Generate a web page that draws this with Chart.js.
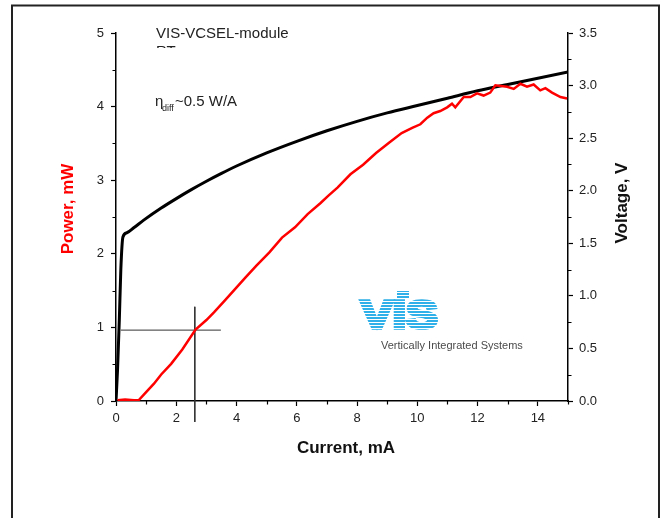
<!DOCTYPE html>
<html>
<head>
<meta charset="utf-8">
<script src="https://cdn.jsdelivr.net/npm/chart.js@4/dist/chart.umd.min.js"></script>
<style>
  html, body { margin: 0; padding: 0; background: #fff; }
  canvas { display: block; }
</style>
</head>
<body>
<canvas id="chart" width="666" height="518"></canvas>
<script>
// Voltage (right axis) vs current
const currentV = [0, 0.05, 0.11, 0.16, 0.23, 0.36, 0.6, 0.92, 1.5, 2, 2.5, 3, 3.5, 4, 5, 6, 7, 8, 9, 10, 11, 12, 13, 14, 15];
const voltage  = [0, 0.29, 0.77, 1.25, 1.56, 1.60, 1.65, 1.72, 1.835, 1.925, 2.01, 2.09, 2.165, 2.235, 2.36, 2.47, 2.57, 2.66, 2.74, 2.81, 2.88, 2.95, 3.01, 3.07, 3.13];

// Optical power (left axis) vs current
const currentP = [0.05, 0.3, 0.6, 0.75, 1.0, 1.26, 1.5, 1.83, 2.2, 2.64, 3.0, 3.25, 3.6, 3.95, 4.3, 4.66, 5.09, 5.51, 5.94, 6.36, 6.79, 7.05, 7.35, 7.78, 8.2, 8.63, 9.06, 9.48, 9.83, 10.1, 10.33, 10.54, 10.76, 10.99, 11.15, 11.26, 11.54, 11.76, 11.98, 12.2, 12.42, 12.59, 12.98, 13.2, 13.42, 13.64, 13.86, 14.08, 14.25, 14.47, 14.75, 14.97];
const power    = [0.01, 0.02, 0.01, 0.01, 0.12, 0.235, 0.36, 0.505, 0.70, 0.97, 1.10, 1.205, 1.36, 1.52, 1.68, 1.84, 2.02, 2.22, 2.36, 2.54, 2.69, 2.79, 2.90, 3.08, 3.21, 3.37, 3.51, 3.64, 3.71, 3.76, 3.85, 3.91, 3.94, 3.99, 4.04, 3.99, 4.13, 4.13, 4.18, 4.15, 4.19, 4.29, 4.27, 4.24, 4.31, 4.27, 4.30, 4.22, 4.25, 4.19, 4.13, 4.11];

// Thin crosshair marking the ~1 mW point
const crossH = { x: [0.16, 3.48], y: [0.963, 0.963] };
const crossV = { x: [2.615, 2.615], y: [1.28, -0.285] };

// Axis ranges / ticks
const xRange = [0, 15], xStep = 2, xMinor = 1;
const pRange = [0, 5],  pStep = 1, pMinor = 0.5;
const vRange = [0, 3.5], vStep = 0.5, vMinor = 0.25;

const toXY = (xs, ys) => xs.map((x, i) => ({ x, y: ys[i] }));
const FONT = "'Liberation Sans', Arial, sans-serif";

// minor ticks, frame, annotations and rotated axis titles
const decorations = {
  id: 'decorations',
  beforeDraw(chart) {
    const c = chart.ctx;
    c.save();
    c.fillStyle = '#fff';
    c.fillRect(0, 0, chart.width, chart.height);
    c.restore();
  },
  afterDraw(chart) {
    const c = chart.ctx;
    const { x, y, y2 } = chart.scales;
    c.save();

    // outer frame (bottom edge runs off the picture)
    c.strokeStyle = '#222';
    c.lineWidth = 2;
    c.strokeRect(12, 5.5, 647, 560);

    // minor ticks
    c.strokeStyle = '#000';
    c.lineWidth = 1.2;
    c.beginPath();
    for (let v = xRange[0] + xMinor; v <= xRange[1]; v += xStep) {
      const px = Math.round(x.getPixelForValue(v)) + 0.5;
      c.moveTo(px, y.bottom); c.lineTo(px, y.bottom + 3.5);
    }
    for (let v = pRange[0] + pMinor; v < pRange[1]; v += pStep) {
      const py = Math.round(y.getPixelForValue(v)) + 0.5;
      c.moveTo(x.left, py); c.lineTo(x.left - 3.5, py);
    }
    for (let v = vRange[0] + vMinor; v < vRange[1]; v += vStep) {
      const py = Math.round(y2.getPixelForValue(v)) + 0.5;
      c.moveTo(x.right, py); c.lineTo(x.right + 3.5, py);
    }
    c.stroke();

    // axis titles
    c.font = 'bold 17px ' + FONT;
    c.textAlign = 'center';
    c.textBaseline = 'alphabetic';
    c.fillStyle = '#111';
    c.fillText('Current, mA', 346, 453);

    c.save();
    c.translate(73, 209);
    c.rotate(-Math.PI / 2);
    c.fillStyle = '#ff0000';
    c.fillText('Power, mW', 0, 0);
    c.restore();

    c.save();
    c.translate(627, 203);
    c.rotate(-Math.PI / 2);
    c.fillStyle = '#111';
    c.fillText('Voltage, V', 0, 0);
    c.restore();

    // annotations
    c.textAlign = 'left';
    c.fillStyle = '#222';
    c.font = '15px ' + FONT;
    c.fillText('VIS-VCSEL-module', 156, 38);
    c.save();
    c.beginPath();
    c.rect(150, 40, 80, 8);
    c.clip();
    c.fillText('RT', 156, 56);
    c.restore();

    c.font = '15px ' + FONT;
    c.fillText('\u03b7', 155, 106);
    c.font = '9px ' + FONT;
    c.fillText('diff', 162, 111);
    c.font = '15px ' + FONT;
    c.fillText('~0.5 W/A', 175, 106);

    // VIS logo (heavy striped letters)
    c.save();
    c.translate(361, 328);
    c.scale(1.25, 1);
    c.font = 'bold 38px ' + FONT;
    c.fillStyle = '#2fb0e8';
    c.strokeStyle = '#2fb0e8';
    c.lineWidth = 3.5;
    c.lineJoin = 'miter';
    c.fillText('VIS', 0, 0);
    c.strokeText('VIS', 0, 0);
    c.restore();
    c.fillStyle = '#2fb0e8';
    c.fillRect(397, 291, 12, 7);
    c.fillStyle = '#fff';
    for (let yy = 292; yy < 331; yy += 3) c.fillRect(355, yy, 92, 1);
    c.fillStyle = '#4a4a4a';
    c.font = '11px ' + FONT;
    c.fillText('Vertically Integrated Systems', 381, 349);

    c.restore();
  }
};

new Chart(document.getElementById('chart'), {
  type: 'line',
  data: {
    datasets: [
      {
        data: toXY(currentP, power),
        yAxisID: 'y',
        borderColor: '#ff0000',
        borderWidth: 2.5,
        pointRadius: 0,
        tension: 0,
      },
      {
        data: toXY(currentV, voltage),
        yAxisID: 'y2',
        borderColor: '#000',
        borderWidth: 3,
        pointRadius: 0,
        cubicInterpolationMode: 'monotone',
      },
      {
        data: toXY(crossH.x, crossH.y),
        yAxisID: 'y',
        borderColor: '#333',
        borderWidth: 1,
        pointRadius: 0,
        clip: false,
      },
      {
        data: toXY(crossV.x, crossV.y),
        yAxisID: 'y',
        borderColor: '#333',
        borderWidth: 1,
        pointRadius: 0,
        clip: false,
      },
    ],
  },
  options: {
    responsive: false,
    animation: false,
    events: [],
    layout: { padding: { top: 33, left: 0, right: 0, bottom: 0 } },
    plugins: { legend: { display: false }, tooltip: { enabled: false } },
    scales: {
      x: {
        type: 'linear',
        min: xRange[0], max: xRange[1],
        afterFit: s => { s.height = 117; },
        border: { display: true, color: '#000', width: 1.5 },
        grid: { drawOnChartArea: false, color: '#000', tickLength: 5, tickWidth: 1.2 },
        ticks: {
          stepSize: xStep, includeBounds: false, maxRotation: 0, padding: 5,
          color: '#222', font: { family: FONT, size: 13 },
        },
      },
      y: {
        position: 'left',
        min: pRange[0], max: pRange[1],
        afterFit: s => { s.width = 116; },
        border: { display: true, color: '#000', width: 1.5 },
        grid: { drawOnChartArea: false, color: '#000', tickLength: 5, tickWidth: 1.2 },
        ticks: {
          stepSize: pStep, padding: 7,
          color: '#222', font: { family: FONT, size: 13 },
        },
      },
      y2: {
        position: 'right',
        min: vRange[0], max: vRange[1],
        afterFit: s => { s.width = 98; },
        border: { display: true, color: '#000', width: 1.5 },
        grid: { drawOnChartArea: false, color: '#000', tickLength: 5, tickWidth: 1.2 },
        ticks: {
          stepSize: vStep, padding: 6,
          color: '#222', font: { family: FONT, size: 13 },
          callback: v => v.toFixed(1),
        },
      },
    },
  },
  plugins: [decorations],
});
</script>
</body>
</html>
